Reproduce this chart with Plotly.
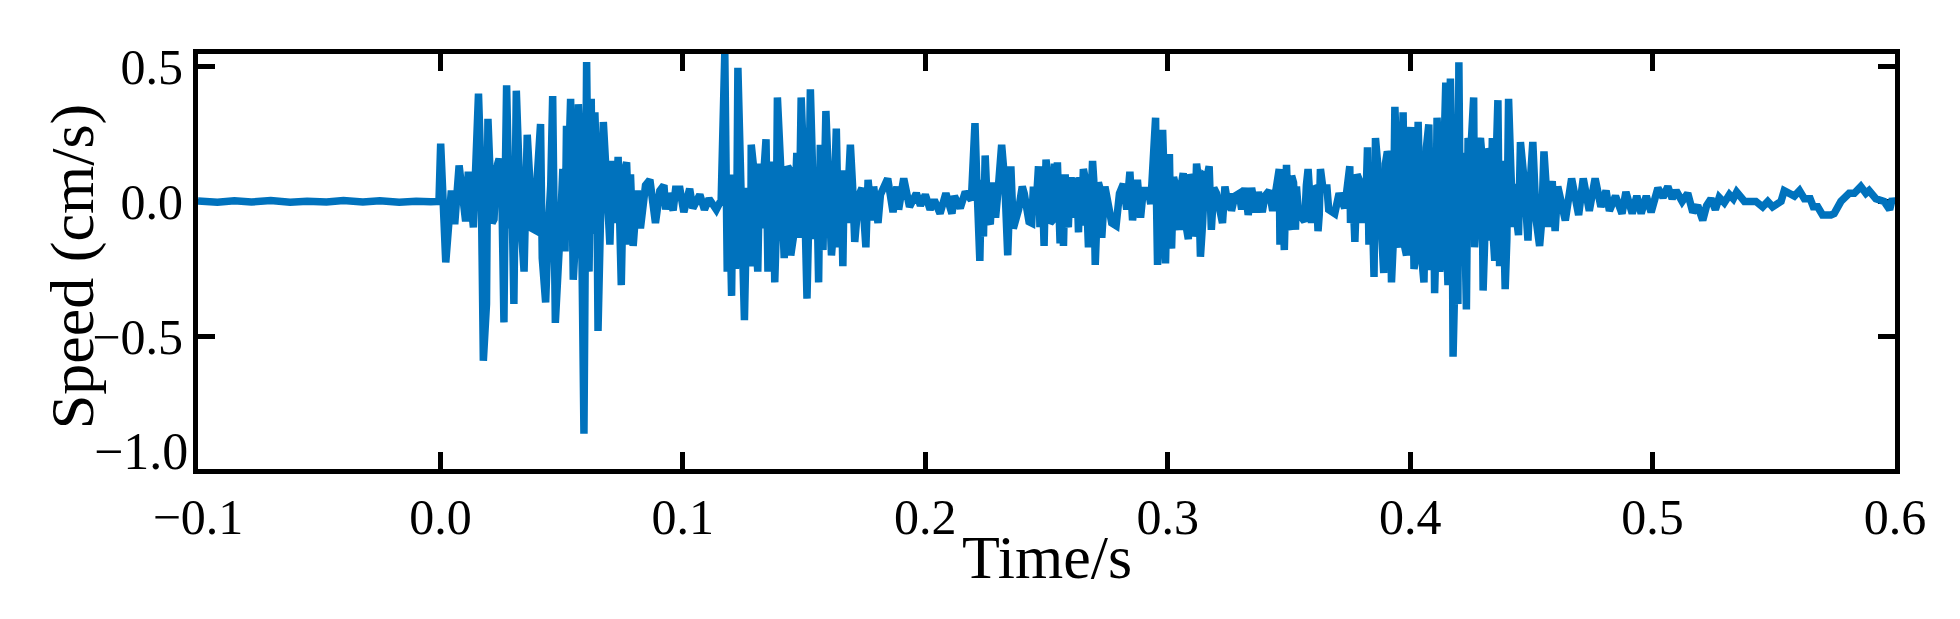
import plotly.graph_objects as go

# values, one pair of lists per stretch of the record
quiet_t = [-0.1, -0.092, -0.085, -0.078, -0.07, -0.062, -0.055, -0.047, -0.04, -0.032, -0.025, -0.017, -0.01, -0.004, -0.0006]
quiet_v = [0.002, -0.003, 0.002, -0.002, 0.003, -0.003, 0.001, -0.002, 0.003, -0.002, 0.002, -0.003, 0.001, -0.001, 0.0]

burst_a_t = [0.0001, 0.0022, 0.0045, 0.0059, 0.0077, 0.0104, 0.0115, 0.0136, 0.0157, 0.0177,
             0.019, 0.0196, 0.0221, 0.0242, 0.0262, 0.0273, 0.0303, 0.0313, 0.0345, 0.0358,
             0.039, 0.0413, 0.042, 0.0434, 0.0463, 0.0474, 0.0496, 0.0514, 0.052, 0.0537,
             0.0548, 0.0569, 0.0592, 0.0603, 0.0613, 0.0622, 0.0637, 0.065, 0.0672, 0.0699,
             0.0709, 0.0733, 0.0746, 0.0768, 0.078, 0.0784, 0.0795, 0.0812, 0.0825, 0.0846,
             0.0864, 0.0887, 0.0905, 0.0922, 0.0929, 0.0938, 0.096, 0.097, 0.0988, 0.1004,
             0.1028, 0.1041, 0.107, 0.1089, 0.1108, 0.1138, 0.1158]
burst_a_v = [0.214, -0.226, 0.04, -0.084, 0.133, -0.074, 0.11, -0.096, 0.399, -0.59,
             -0.38, 0.306, -0.066, 0.158, -0.448, 0.43, -0.38, 0.41, -0.26, 0.247,
             -0.106, 0.287, -0.21, -0.374, 0.39, -0.45, -0.07, -0.185, 0.28, 0.38,
             -0.29, 0.36, -0.86, 0.516, -0.26, 0.38, 0.33, -0.48, 0.294, -0.16,
             0.15, 0.165, -0.31, 0.145, -0.16, 0.1, -0.165, 0.04, -0.1, 0.06,
             0.08, -0.08, 0.04, 0.06, -0.03, 0.03, -0.033, 0.045, 0.045, -0.04,
             0.047, -0.025, 0.025, -0.03, 0.01, -0.03, 0.005]

burst_b_t = [0.1173, 0.1183, 0.1191, 0.1201, 0.1217, 0.1227, 0.1254, 0.1265, 0.128, 0.1282,
             0.1309, 0.1317, 0.1343, 0.1351, 0.1367, 0.1379, 0.139, 0.1418, 0.1432, 0.1445,
             0.147, 0.1477, 0.1488, 0.1512, 0.1526, 0.1544, 0.156, 0.1567, 0.1578, 0.159,
             0.1613, 0.1633, 0.1643, 0.166, 0.1666, 0.1691, 0.1709, 0.1725, 0.1739, 0.1755,
             0.1764, 0.178, 0.1787, 0.1805, 0.1815, 0.1845, 0.1867, 0.1883, 0.189, 0.1911,
             0.1935, 0.1963, 0.198, 0.2, 0.202, 0.2037, 0.2061, 0.2085, 0.211, 0.212,
             0.2144, 0.2165, 0.219]
burst_b_v = [0.55, -0.26, 0.08, -0.35, -0.25, 0.495, -0.44, 0.05, -0.24, 0.21,
             -0.26, 0.14, 0.23, -0.26, 0.145, -0.3, 0.385, -0.21, 0.13, -0.2,
             0.18, -0.135, 0.385, -0.36, 0.415, -0.14, -0.3, 0.21, -0.18, 0.335,
             -0.2, 0.27, -0.17, -0.24, 0.115, 0.21, -0.15, 0.02, 0.05, -0.17,
             0.08, -0.07, 0.055, -0.08, 0.025, 0.085, -0.04, 0.055, -0.03, 0.085,
             -0.02, 0.03, -0.015, 0.025, -0.03, 0.005, -0.045, 0.03, -0.045, 0.02,
             -0.025, 0.035, 0.005]

burst_c_t = [0.2205, 0.2225, 0.224, 0.2247, 0.2268, 0.2315, 0.234, 0.2353, 0.2363, 0.24,
             0.2428, 0.2439, 0.2446, 0.2467, 0.2473, 0.249, 0.2498, 0.2515, 0.2533, 0.2545,
             0.2556, 0.257, 0.2577, 0.259, 0.2598, 0.2618, 0.2632, 0.2638, 0.2652, 0.2673,
             0.269, 0.2701, 0.2714, 0.2728, 0.2741, 0.2769, 0.2787, 0.2801, 0.2817, 0.2831,
             0.2844, 0.2855, 0.2875, 0.2888, 0.2899, 0.292, 0.293, 0.295, 0.2958, 0.2979,
             0.2991, 0.3007, 0.3016, 0.3032, 0.3048, 0.3064, 0.3085, 0.3092, 0.3105, 0.3119,
             0.3135, 0.3153, 0.3171, 0.318, 0.3201, 0.3226, 0.3236, 0.3252, 0.3256, 0.3263,
             0.3277, 0.3295, 0.3305, 0.3319, 0.3332, 0.3346, 0.3364, 0.3374, 0.339, 0.3401,
             0.3419, 0.3433]
burst_c_v = [0.29, -0.22, -0.13, 0.17, -0.085, 0.21, -0.2, 0.13, -0.1, 0.055,
             -0.075, -0.08, 0.055, 0.13, -0.095, -0.165, 0.155, -0.08, 0.14, 0.145,
             -0.155, -0.165, 0.1, -0.095, 0.09, 0.075, -0.115, 0.09, 0.12, -0.17,
             0.15, -0.235, 0.07, -0.135, 0.055, -0.08, -0.09, 0.03, 0.065, -0.03,
             0.11, -0.07, 0.08, -0.06, 0.04, 0.04, -0.01, 0.31, -0.235, 0.265,
             -0.23, 0.175, -0.175, 0.06, -0.105, 0.105, -0.14, 0.1, -0.13, 0.14,
             -0.205, 0.095, 0.13, -0.105, 0.03, -0.08, 0.055, -0.03, 0.03, -0.035,
             0.02, 0.03, -0.03, 0.05, -0.05, 0.05, -0.04, 0.035, -0.04, 0.02,
             0.04, -0.035]

burst_d_t = [0.346, 0.3463, 0.3481, 0.349, 0.3508, 0.3511, 0.3527, 0.3531, 0.3549, 0.3565,
             0.3579, 0.3593, 0.3606, 0.362, 0.363, 0.3657, 0.3664, 0.3689, 0.3707, 0.373,
             0.3751, 0.3754, 0.3772, 0.3781, 0.38, 0.3806, 0.3824, 0.383, 0.3851, 0.3857,
             0.3875, 0.3891, 0.3906, 0.3923, 0.3937, 0.3951, 0.3971, 0.3985, 0.4003, 0.4016,
             0.4033, 0.4057, 0.4077, 0.4087, 0.4101, 0.4111, 0.4122, 0.4133, 0.4147, 0.4156,
             0.4166, 0.4177, 0.4197, 0.4201, 0.4232, 0.4239, 0.4262, 0.427, 0.429, 0.4301,
             0.4314, 0.4332, 0.4339, 0.4349, 0.4362, 0.4369, 0.4392, 0.4406, 0.4424, 0.4435,
             0.4447, 0.4455, 0.4486, 0.4506, 0.4534, 0.4552, 0.4572, 0.4586, 0.4598, 0.4609,
             0.464, 0.4666, 0.4695, 0.4714, 0.4739, 0.4763, 0.4787, 0.4808, 0.4822, 0.4847,
             0.4874, 0.489]
burst_d_v = [0.12, -0.16, -0.18, 0.135, -0.105, 0.095, -0.105, 0.055, -0.055, -0.075,
             0.12, -0.08, 0.055, -0.11, 0.12, 0.05, -0.03, -0.045, 0.03, -0.025,
             0.13, -0.08, -0.15, 0.1, -0.08, 0.07, 0.2, -0.16, -0.28, 0.235,
             -0.11, -0.265, 0.185, -0.3, 0.35, -0.12, 0.33, -0.2, 0.275, -0.25,
             0.295, -0.3, 0.285, -0.255, -0.34, 0.31, -0.26, 0.2, 0.44, -0.31,
             0.455, -0.575, -0.38, 0.515, -0.4, 0.235, 0.385, -0.11, 0.235, -0.33,
             0.195, -0.145, 0.235, -0.22, 0.375, -0.24, -0.325, 0.38, -0.095, 0.065,
             -0.125, 0.22, -0.145, 0.22, -0.165, 0.185, -0.095, 0.075, -0.11, 0.055,
             -0.07, 0.085, -0.05, 0.085, -0.035, 0.085, -0.02, 0.04, -0.035, 0.02,
             -0.045, 0.035]

tail_t = [0.4916, 0.4935, 0.4953, 0.4974, 0.4994, 0.5022, 0.5043, 0.5063, 0.5081, 0.5097,
          0.5122, 0.5145, 0.5166, 0.5186, 0.5207, 0.5223, 0.5241, 0.5259, 0.5275, 0.5296,
          0.5317, 0.5333, 0.5347, 0.5379, 0.5426, 0.5454, 0.5475, 0.5495, 0.553, 0.5543,
          0.5585, 0.5606, 0.5626, 0.565, 0.5663, 0.5681, 0.5701, 0.5736, 0.5749, 0.5777,
          0.5811, 0.5832, 0.5859, 0.588, 0.5893, 0.5921, 0.5955, 0.5978, 0.5989, 0.6]
tail_v = [-0.045, 0.02, -0.045, 0.02, -0.04, 0.05, 0.015, 0.055, 0.01, 0.04,
          0.0, 0.03, -0.04, -0.015, -0.07, -0.015, 0.01, -0.03, 0.015, -0.005,
          0.025, 0.01, 0.035, 0.0, 0.0, -0.02, 0.0, -0.02, 0.0, 0.04,
          0.02, 0.04, 0.01, 0.01, -0.02, -0.02, -0.05, -0.05, -0.045, 0.0,
          0.03, 0.03, 0.055, 0.03, 0.04, 0.01, 0.0, -0.03, 0.01, -0.01]

# the smaller swings that fill in the dark core between the big spikes
core_t = [0.0168, 0.0205, 0.0213, 0.023, 0.0252, 0.0268, 0.0285, 0.0293, 0.0325, 0.0335,
          0.0368, 0.0378, 0.04, 0.0445, 0.0455, 0.0505, 0.0528, 0.0558, 0.058, 0.0628,
          0.0645, 0.066, 0.0685, 0.072, 0.0755,
          0.1207, 0.1222, 0.124, 0.1272, 0.1295, 0.13, 0.1325, 0.1335, 0.1358, 0.1372,
          0.1385, 0.1405, 0.1425, 0.1438, 0.1458, 0.1483, 0.15, 0.1518, 0.1535, 0.1552,
          0.1572, 0.1585, 0.16, 0.162, 0.1652, 0.1675, 0.17,
          0.2212, 0.2232, 0.2258, 0.2278, 0.229, 0.2302, 0.2328, 0.2345, 0.2385, 0.2408,
          0.2455, 0.2482, 0.2507, 0.2525, 0.2538, 0.2563, 0.2583, 0.2607, 0.2625, 0.2645,
          0.2663, 0.268, 0.2695, 0.2707, 0.272, 0.2952, 0.2968, 0.2985, 0.2999, 0.3012,
          0.3024, 0.304, 0.3056, 0.3074, 0.3099, 0.3112, 0.3127, 0.3144, 0.3162, 0.319,
          0.3472, 0.3498, 0.3519, 0.354, 0.3572, 0.3613, 0.3625, 0.364,
          0.3762, 0.379, 0.3815, 0.384, 0.3866, 0.3883, 0.3898, 0.3915, 0.393, 0.3944,
          0.396, 0.3978, 0.3994, 0.4009, 0.4025, 0.4045, 0.4067, 0.4094, 0.4105, 0.4116,
          0.4128, 0.414, 0.4152, 0.4161, 0.4172, 0.4187, 0.4208, 0.422, 0.425, 0.4266,
          0.428, 0.4296, 0.4307, 0.4323, 0.4344, 0.4355, 0.438, 0.4399, 0.4415, 0.4441,
          0.447, 0.4496, 0.452, 0.4543, 0.458]
core_v = [0.09, 0.10, -0.08, 0.12, 0.10, 0.12, -0.10, 0.12, 0.10, -0.12,
          0.09, -0.10, 0.10, -0.10, 0.06, 0.12, 0.10, -0.12, 0.10, -0.12,
          0.10, -0.08, 0.08, -0.08, 0.10,
          0.10, -0.10, 0.04, -0.10, 0.10, -0.12, -0.10, 0.12, 0.10, 0.12,
          -0.12, 0.10, -0.10, 0.12, -0.12, 0.10, 0.10, -0.12, 0.12, 0.08,
          -0.10, 0.12, 0.10, -0.12, 0.08, -0.08, 0.06,
          0.09, 0.08, -0.06, 0.07, -0.06, 0.06, 0.07, -0.07, -0.03, 0.03,
          -0.05, 0.08, 0.08, -0.07, -0.06, 0.07, -0.07, -0.06, 0.08, -0.09,
          0.07, -0.08, 0.08, -0.09, 0.05, 0.10, -0.08, 0.09, 0.10, -0.09,
          0.09, -0.07, 0.06, -0.08, 0.08, -0.07, 0.08, -0.08, 0.09, 0.05,
          0.07, -0.07, 0.07, -0.05, 0.06, 0.05, -0.05, 0.05,
          0.08, 0.08, -0.08, 0.12, 0.14, -0.13, 0.14, 0.16, -0.16, 0.17,
          -0.17, -0.17, 0.18, 0.17, -0.19, -0.18, 0.20, 0.20, -0.20, 0.20,
          -0.20, 0.20, -0.20, 0.20, 0.20, -0.19, -0.20, 0.18, 0.18, -0.17,
          0.18, 0.17, -0.16, 0.17, -0.15, 0.16, 0.15, -0.14, 0.13, -0.08,
          0.08, 0.08, -0.07, -0.07, 0.04]

merged = sorted(zip(quiet_t + burst_a_t + burst_b_t + burst_c_t + burst_d_t + tail_t + core_t,
                    quiet_v + burst_a_v + burst_b_v + burst_c_v + burst_d_v + tail_v + core_v))
time_s = [p[0] for p in merged]
speed = [p[1] for p in merged]

x_ticks = [-0.1, 0.0, 0.1, 0.2, 0.3, 0.4, 0.5, 0.6]
y_ticks = [-0.5, 0.0, 0.5]

FONT = "Liberation Serif"

fig = go.Figure()
fig.add_trace(go.Scatter(x=time_s, y=speed, mode="lines", cliponaxis=False,
                         line=dict(color="#0072BD", width=7.5, simplify=False)))

# axes go under the trace so the blue line covers the ticks at zero
axis_style = dict(showgrid=False, zeroline=False, showline=True, linecolor="black", linewidth=5,
                  mirror="allticks", ticks="inside", ticklen=17, tickwidth=4.5, tickcolor="black",
                  layer="below traces", tickformat=".1f",
                  tickfont=dict(family=FONT, size=50, color="black"))

fig.update_xaxes(range=[-0.1, 0.6], tickvals=x_ticks, **axis_style)
fig.update_yaxes(range=[-0.991, 0.546], tickvals=y_ticks, **axis_style)

# the -1.0 label sits above its tick in the original, so it is placed by hand
fig.add_annotation(text="\u22121.0", xref="paper", yref="paper", x=-0.005, y=0.041, showarrow=False,
                   xanchor="right", yanchor="middle", font=dict(family=FONT, size=52, color="black"))
fig.add_annotation(text="Time/s", xref="paper", yref="paper", x=0.5, y=-0.212, showarrow=False,
                   yanchor="middle", font=dict(family=FONT, size=62, color="black"))
fig.add_annotation(text="Speed (cm/s)", xref="paper", yref="paper", x=-0.0735, y=0.487, showarrow=False,
                   textangle=-90, xanchor="center", yanchor="middle",
                   font=dict(family=FONT, size=62, color="black"))

fig.update_layout(width=1960, height=619, autosize=False, showlegend=False,
                  paper_bgcolor="white", plot_bgcolor="white",
                  margin=dict(l=198, r=65, t=54, b=150))

fig.write_html("out.html", config=dict(displayModeBar=False),
               post_script="document.body.style.margin='0';")
